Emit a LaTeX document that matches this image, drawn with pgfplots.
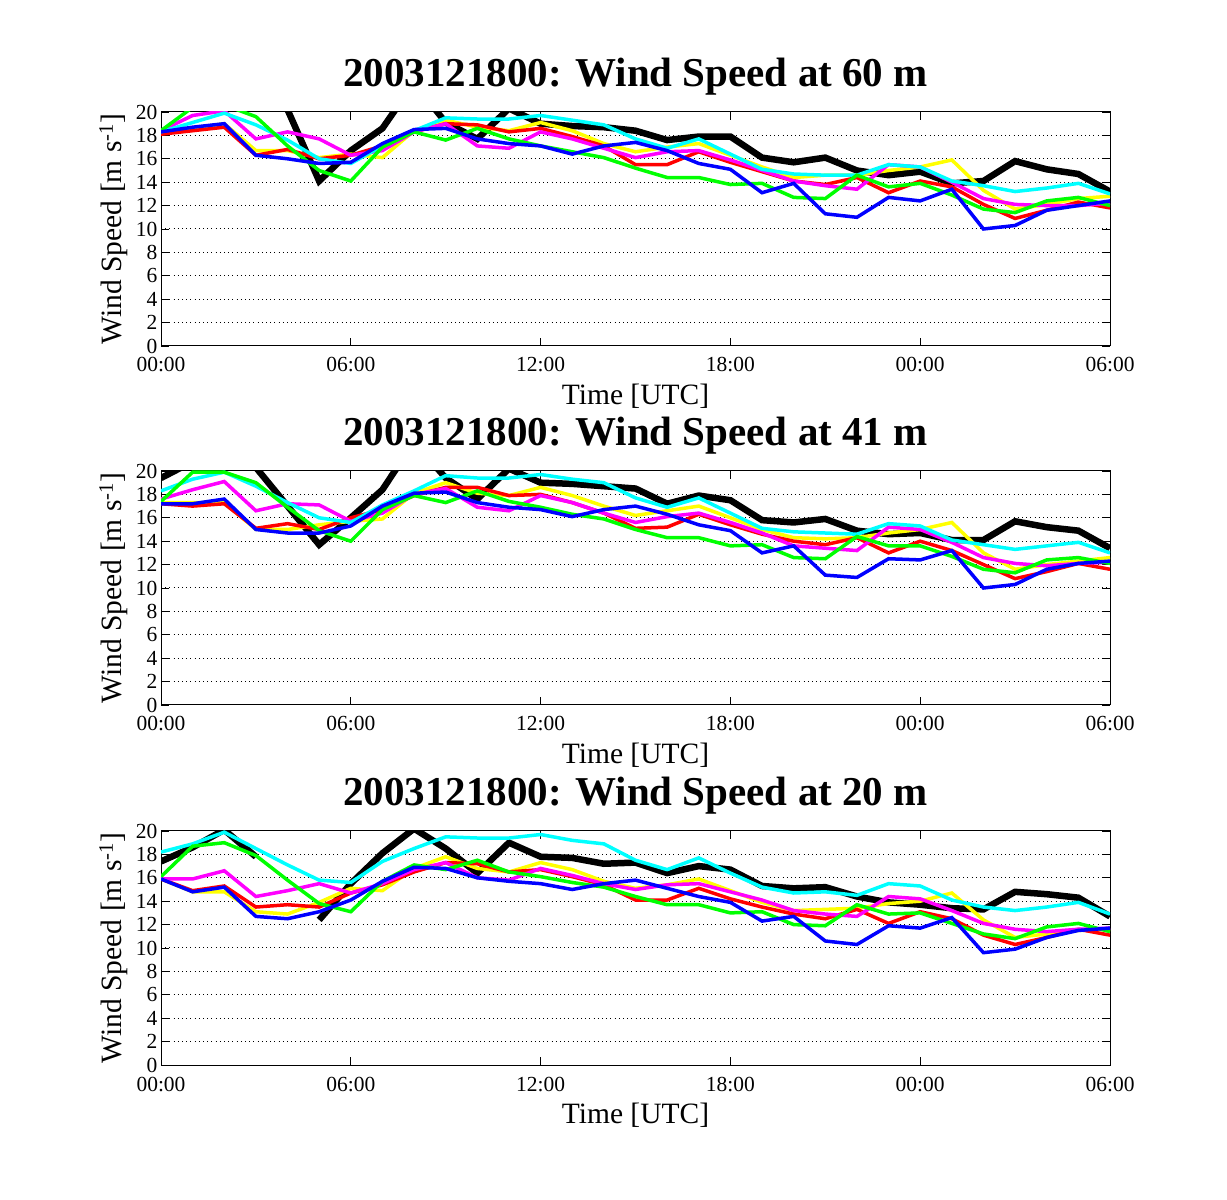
\documentclass[border=0pt]{standalone}
\usepackage{fontspec}
\setmainfont{Liberation Serif}
\usepackage{pgfplots}
\usepackage{pgfplotstable}
\pgfplotsset{compat=1.18}

\pgfplotstableread{
h k y r m g c b
0 21.0 18.3 18.1 18.4 18.4 18.3 18.3
1 21.5 18.6 18.4 19.7 20.4 19.1 18.7
2 22.0 19.0 18.7 20.1 20.6 19.9 19.0
3 21.5 16.7 16.3 17.7 19.6 18.9 16.3
4 20.2 16.7 16.8 18.3 17.1 17.6 16.0
5 14.1 16.1 16.0 17.7 15.0 16.0 15.6
6 16.7 16.4 16.3 16.3 14.1 15.6 15.7
7 18.6 16.1 17.1 16.7 17.0 17.1 17.3
8 22.5 18.4 18.3 18.3 18.3 18.4 18.5
9 19.1 19.3 19.0 19.0 17.6 19.5 18.6
10 17.7 18.7 18.9 17.1 18.6 19.4 17.7
11 20.3 18.4 18.3 16.9 17.7 19.4 17.3
12 19.0 19.1 18.6 18.3 17.1 19.7 17.1
13 18.8 18.4 17.9 17.7 16.6 19.3 16.4
14 18.7 17.3 17.1 16.9 16.1 18.9 17.1
15 18.4 16.6 15.5 16.1 15.2 17.7 17.4
16 17.6 17.0 15.5 16.6 14.4 16.9 16.7
17 17.9 17.3 16.6 16.7 14.4 17.7 15.6
18 17.9 16.3 15.7 15.9 13.8 16.4 15.1
19 16.1 15.3 14.9 15.0 13.9 15.1 13.1
20 15.7 14.4 14.1 14.1 12.7 14.7 13.9
21 16.1 14.6 13.8 13.7 12.6 14.6 11.3
22 15.0 14.6 14.4 13.4 14.6 14.6 11.0
23 14.6 15.0 13.1 15.5 13.6 15.5 12.7
24 14.9 15.3 14.1 15.3 13.9 15.3 12.4
25 13.9 15.9 13.6 14.0 12.9 14.1 13.4
26 14.1 13.3 12.1 12.6 11.7 13.7 10.0
27 15.8 11.7 10.9 12.1 11.4 13.2 10.3
28 15.1 12.1 11.6 12.0 12.4 13.5 11.6
29 14.7 12.6 12.3 12.0 12.7 13.9 12.0
30 13.2 12.8 11.8 12.2 12.0 13.0 12.4
}\tabA

\pgfplotstableread{
h k y r m g c b
0 19.4 17.3 17.2 17.6 17.4 18.3 17.2
1 20.8 17.3 17.0 18.4 19.9 19.3 17.2
2 21.2 17.3 17.2 19.1 19.9 19.9 17.6
3 20.3 15.0 15.1 16.6 19.0 18.7 15.0
4 17.0 15.0 15.5 17.2 16.9 17.3 14.7
5 13.7 15.4 15.0 17.1 14.9 16.0 14.7
6 16.0 15.7 16.0 15.7 14.0 15.6 15.3
7 18.4 15.9 16.7 16.4 16.7 17.1 17.0
8 22.5 18.1 17.9 18.0 17.9 18.3 18.1
9 19.4 19.0 18.6 18.5 17.3 19.6 18.2
10 17.6 18.1 18.6 16.9 18.3 19.4 17.3
11 20.2 17.9 17.9 16.6 17.4 19.4 16.9
12 19.0 18.6 18.0 17.9 16.9 19.7 16.7
13 18.9 17.9 17.3 17.3 16.3 19.3 16.1
14 18.7 17.0 16.4 16.4 15.9 19.0 16.7
15 18.5 16.2 15.1 15.6 15.0 17.7 17.0
16 17.2 16.6 15.2 16.1 14.3 16.9 16.3
17 17.9 17.0 16.3 16.4 14.3 17.7 15.4
18 17.5 16.0 15.4 15.6 13.6 16.4 14.9
19 15.8 15.0 14.6 14.7 13.7 15.1 13.0
20 15.6 14.3 14.0 13.6 12.6 14.8 13.6
21 15.9 14.2 13.7 13.4 12.5 14.7 11.1
22 14.9 14.3 14.3 13.2 14.4 14.6 10.9
23 14.6 14.7 13.0 15.2 13.6 15.5 12.5
24 14.7 15.0 14.0 15.0 13.6 15.3 12.4
25 14.1 15.6 13.2 13.9 12.7 14.1 13.2
26 14.1 13.0 12.0 12.6 11.6 13.7 10.0
27 15.7 11.6 10.8 12.1 11.3 13.3 10.3
28 15.2 12.0 11.4 11.9 12.4 13.6 11.6
29 14.9 12.3 12.1 12.1 12.6 13.9 12.1
30 13.4 12.6 11.6 12.2 12.1 13.0 12.3
}\tabB

\pgfplotstableread{
h k y r m g c b
0 17.4 15.9 15.9 15.9 16.1 18.2 15.9
1 18.6 14.8 14.9 15.9 18.7 18.9 14.8
2 20.1 14.8 15.3 16.6 19.0 19.9 15.2
3 17.8 13.1 13.5 14.4 17.9 18.5 12.7
4 nan 12.9 13.7 14.9 15.8 17.1 12.5
5 12.4 13.9 13.5 15.5 13.8 15.8 13.1
6 15.5 15.1 14.7 14.7 13.1 15.6 14.1
7 18.1 14.9 15.4 15.5 15.7 17.4 15.7
8 20.2 16.8 16.5 16.7 17.1 18.5 16.9
9 18.5 17.8 17.3 17.3 16.7 19.5 16.8
10 16.4 16.8 17.2 16.0 17.5 19.4 16.0
11 19.0 16.5 16.5 15.8 16.5 19.4 15.7
12 17.8 17.3 16.7 16.8 16.1 19.7 15.5
13 17.7 16.7 16.1 16.2 15.6 19.2 15.0
14 17.2 15.7 15.4 15.5 15.2 18.9 15.5
15 17.3 15.1 14.1 15.0 14.4 17.5 15.8
16 16.4 15.4 14.1 15.4 13.7 16.7 15.1
17 17.0 15.9 15.1 15.5 13.7 17.7 14.4
18 16.7 14.9 14.2 14.8 13.0 16.4 13.9
19 15.3 13.9 13.5 14.1 13.1 15.2 12.3
20 15.1 13.2 12.9 13.2 12.0 14.7 12.7
21 15.2 13.3 12.5 12.9 11.9 14.8 10.6
22 14.4 13.4 13.3 12.7 13.7 14.5 10.3
23 13.9 13.8 12.1 14.4 12.9 15.5 11.9
24 13.7 14.0 13.1 14.2 13.0 15.3 11.7
25 13.4 14.7 12.5 13.2 12.1 14.1 12.6
26 13.3 12.4 11.1 12.1 11.2 13.5 9.6
27 14.8 10.9 10.3 11.6 10.8 13.2 9.9
28 14.6 11.2 10.9 11.4 11.8 13.5 10.9
29 14.3 11.5 11.6 11.6 12.1 13.9 11.5
30 12.7 11.6 11.1 11.7 11.4 12.9 11.7
}\tabC

\definecolor{myyellow}{rgb}{1,1,0}
\definecolor{myred}{rgb}{1,0,0}
\definecolor{mymagenta}{rgb}{1,0,1}
\definecolor{mygreen}{rgb}{0,1,0}
\definecolor{mycyan}{rgb}{0,1,1}
\definecolor{myblue}{rgb}{0,0,1}

\pgfplotsset{
  windaxis/.style={
    anchor=south west,
    width=949bp, height=234bp, scale only axis,
    xmin=0, xmax=30, ymin=0, ymax=20,
    xtick={0,6,...,30},
    xticklabels={00:00,06:00,12:00,18:00,00:00,06:00},
    ytick={0,2,...,20},
    tick align=inside,
    major tick length=8bp,
    tick style={black, line width=0.8bp},
    axis line style={black, line width=1bp},
    ymajorgrids,
    major grid style={black, line width=1bp, dash pattern=on 1bp off 3.2bp},
    /pgf/number format/assume math mode=true,
    ticklabel style={font=\fontsize{21.5bp}{24bp}\selectfont},
    xticklabel style={anchor=base, yshift=-26bp},
    xlabel={Time [UTC]},
    ylabel={Wind Speed [m s\textsuperscript{-1}]},
    xlabel style={font=\fontsize{29.5bp}{32bp}\selectfont, at={(axis description cs:0.5,-0.2521)}, anchor=base},
    ylabel style={font=\fontsize{29.5bp}{32bp}\selectfont, at={(axis description cs:-0.0411,0.5)}, anchor=base, rotate=0},
    title style={font=\bfseries\fontsize{41bp}{44bp}\selectfont, at={(axis description cs:0.5,1.085)}, anchor=base},
    unbounded coords=jump,
    every axis plot/.append style={line join=miter, sharp plot, no markers},
  },
  kline/.style={black, line width=6.5bp},
  cline/.style={line width=3.5bp},
}

\newcommand{\windplots}[1]{%
  \addplot[kline] table[x=h,y=k] {#1};
  \addplot[cline, myyellow] table[x=h,y=y] {#1};
  \addplot[cline, myred] table[x=h,y=r] {#1};
  \addplot[cline, mymagenta] table[x=h,y=m] {#1};
  \addplot[cline, mycyan] table[x=h,y=c] {#1};
  \addplot[cline, mygreen] table[x=h,y=g] {#1};
  \addplot[cline, myblue] table[x=h,y=b] {#1};
}

\begin{document}
\begin{tikzpicture}
\path[use as bounding box] (0,0) rectangle (1227bp,1200bp);

\begin{axis}[windaxis, at={(161bp,854bp)}, title={2003121800: Wind Speed at 60 m}]
\windplots{\tabA}
\end{axis}

\begin{axis}[windaxis, at={(161bp,495bp)}, title={2003121800: Wind Speed at 41 m}]
\windplots{\tabB}
\end{axis}

\begin{axis}[windaxis, at={(161bp,135bp)}, title={2003121800: Wind Speed at 20 m}]
\windplots{\tabC}
\end{axis}
\end{tikzpicture}
\end{document}
